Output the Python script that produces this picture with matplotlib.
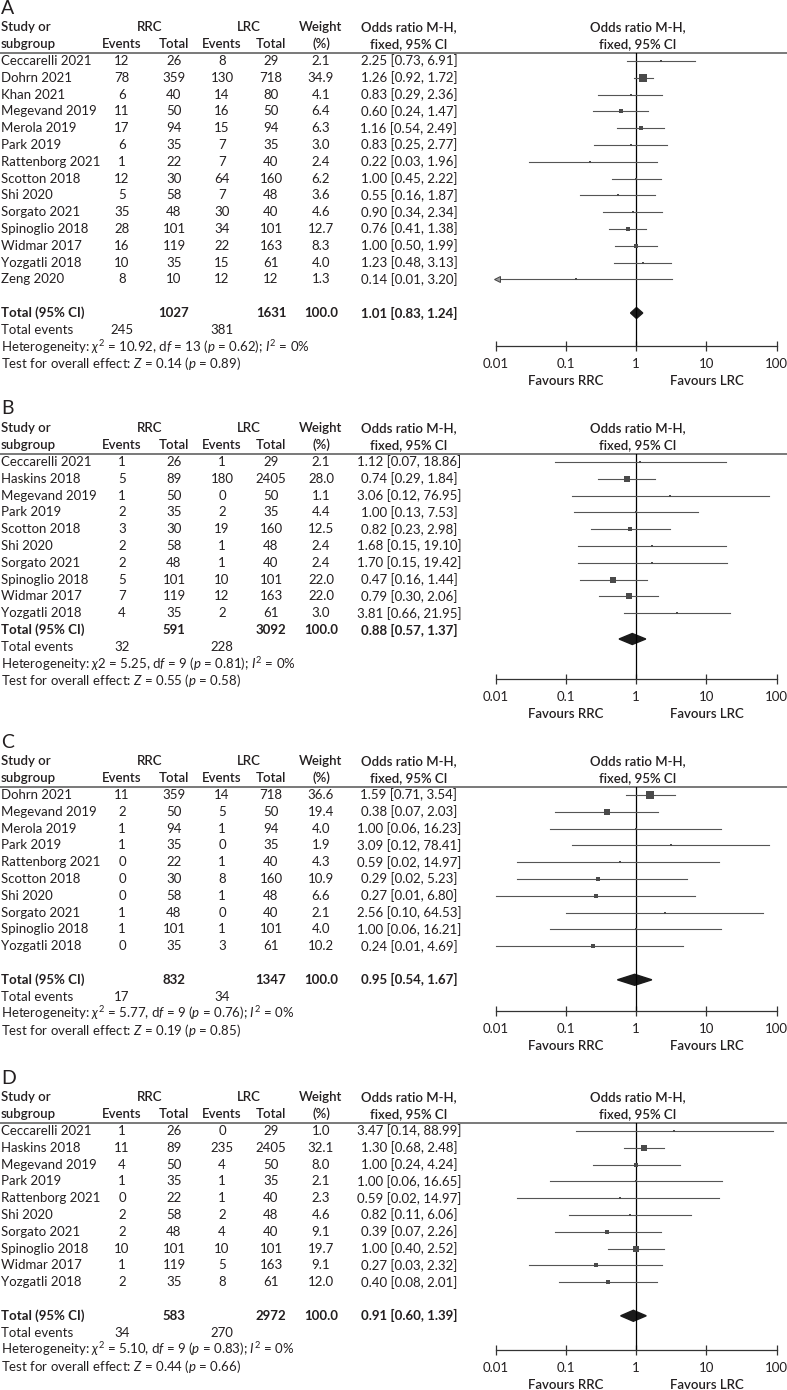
import numpy as np
import matplotlib.pyplot as plt
from matplotlib.patches import Polygon
from matplotlib.ticker import NullLocator

plt.rcParams['font.family'] = ['Lato', 'DejaVu Sans']
plt.rcParams['mathtext.fontset'] = 'custom'
plt.rcParams['mathtext.rm'] = 'Lato'
plt.rcParams['mathtext.it'] = 'Lato:italic'
plt.rcParams['mathtext.bf'] = 'Lato:bold'

# ---- panel A ----
a_study = ["Ceccarelli 2021", "Dohrn 2021", "Khan 2021", "Megevand 2019", "Merola 2019",
           "Park 2019", "Rattenborg 2021", "Scotton 2018", "Shi 2020", "Sorgato 2021",
           "Spinoglio 2018", "Widmar 2017", "Yozgatli 2018", "Zeng 2020"]
a_rrc_ev = [12, 78, 6, 11, 17, 6, 1, 12, 5, 35, 28, 16, 10, 8]
a_rrc_n = [26, 359, 40, 50, 94, 35, 22, 30, 58, 48, 101, 119, 35, 10]
a_lrc_ev = [8, 130, 14, 16, 15, 7, 7, 64, 7, 30, 34, 22, 15, 12]
a_lrc_n = [29, 718, 80, 50, 94, 35, 40, 160, 48, 40, 101, 163, 61, 12]
a_weight = [2.1, 34.9, 4.1, 6.4, 6.3, 3.0, 2.4, 6.2, 3.6, 4.6, 12.7, 8.3, 4.0, 1.3]
a_or = [2.25, 1.26, 0.83, 0.60, 1.16, 0.83, 0.22, 1.00, 0.55, 0.90, 0.76, 1.00, 1.23, 0.14]
a_lo = [0.73, 0.92, 0.29, 0.24, 0.54, 0.25, 0.03, 0.45, 0.16, 0.34, 0.41, 0.50, 0.48, 0.01]
a_hi = [6.91, 1.72, 2.36, 1.47, 2.49, 2.77, 1.96, 2.22, 1.87, 2.34, 1.38, 1.99, 3.13, 3.20]
a_offscale = ["Zeng 2020"]
a_tot_n = [1027, 1631]
a_tot_or = [1.01, 0.83, 1.24]
a_tot_ev = [245, 381]
a_het = [10.92, 13, 0.62, 0]
a_z = [0.14, 0.89]

# ---- panel B ----
b_study = ["Ceccarelli 2021", "Haskins 2018", "Megevand 2019", "Park 2019", "Scotton 2018",
           "Shi 2020", "Sorgato 2021", "Spinoglio 2018", "Widmar 2017", "Yozgatli 2018"]
b_rrc_ev = [1, 5, 1, 2, 3, 2, 2, 5, 7, 4]
b_rrc_n = [26, 89, 50, 35, 30, 58, 48, 101, 119, 35]
b_lrc_ev = [1, 180, 0, 2, 19, 1, 1, 10, 12, 2]
b_lrc_n = [29, 2405, 50, 35, 160, 48, 40, 101, 163, 61]
b_weight = [2.1, 28.0, 1.1, 4.4, 12.5, 2.4, 2.4, 22.0, 22.0, 3.0]
b_or = [1.12, 0.74, 3.06, 1.00, 0.82, 1.68, 1.70, 0.47, 0.79, 3.81]
b_lo = [0.07, 0.29, 0.12, 0.13, 0.23, 0.15, 0.15, 0.16, 0.30, 0.66]
b_hi = [18.86, 1.84, 76.95, 7.53, 2.98, 19.10, 19.42, 1.44, 2.06, 21.95]
b_offscale = []
b_tot_n = [591, 3092]
b_tot_or = [0.88, 0.57, 1.37]
b_tot_ev = [32, 228]
b_het = [5.25, 9, 0.81, 0]
b_z = [0.55, 0.58]

# ---- panel C ----
c_study = ["Dohrn 2021", "Megevand 2019", "Merola 2019", "Park 2019", "Rattenborg 2021",
           "Scotton 2018", "Shi 2020", "Sorgato 2021", "Spinoglio 2018", "Yozgatli 2018"]
c_rrc_ev = [11, 2, 1, 1, 0, 0, 0, 1, 1, 0]
c_rrc_n = [359, 50, 94, 35, 22, 30, 58, 48, 101, 35]
c_lrc_ev = [14, 5, 1, 0, 1, 8, 1, 0, 1, 3]
c_lrc_n = [718, 50, 94, 35, 40, 160, 48, 40, 101, 61]
c_weight = [36.6, 19.4, 4.0, 1.9, 4.3, 10.9, 6.6, 2.1, 4.0, 10.2]
c_or = [1.59, 0.38, 1.00, 3.09, 0.59, 0.29, 0.27, 2.56, 1.00, 0.24]
c_lo = [0.71, 0.07, 0.06, 0.12, 0.02, 0.02, 0.01, 0.10, 0.06, 0.01]
c_hi = [3.54, 2.03, 16.23, 78.41, 14.97, 5.23, 6.80, 64.53, 16.21, 4.69]
c_offscale = []
c_tot_n = [832, 1347]
c_tot_or = [0.95, 0.54, 1.67]
c_tot_ev = [17, 34]
c_het = [5.77, 9, 0.76, 0]
c_z = [0.19, 0.85]

# ---- panel D ----
d_study = ["Ceccarelli 2021", "Haskins 2018", "Megevand 2019", "Park 2019", "Rattenborg 2021",
           "Shi 2020", "Sorgato 2021", "Spinoglio 2018", "Widmar 2017", "Yozgatli 2018"]
d_rrc_ev = [1, 11, 4, 1, 0, 2, 2, 10, 1, 2]
d_rrc_n = [26, 89, 50, 35, 22, 58, 48, 101, 119, 35]
d_lrc_ev = [0, 235, 4, 1, 1, 2, 4, 10, 5, 8]
d_lrc_n = [29, 2405, 50, 35, 40, 48, 40, 101, 163, 61]
d_weight = [1.0, 32.1, 8.0, 2.1, 2.3, 4.6, 9.1, 19.7, 9.1, 12.0]
d_or = [3.47, 1.30, 1.00, 1.00, 0.59, 0.82, 0.39, 1.00, 0.27, 0.40]
d_lo = [0.14, 0.68, 0.24, 0.06, 0.02, 0.11, 0.07, 0.40, 0.03, 0.08]
d_hi = [88.99, 2.48, 4.24, 16.65, 14.97, 6.06, 2.26, 2.52, 2.32, 2.01]
d_offscale = []
d_tot_n = [583, 2972]
d_tot_or = [0.91, 0.60, 1.39]
d_tot_ev = [34, 270]
d_het = [5.10, 9, 0.83, 0]
d_z = [0.44, 0.66]

W, H = 787, 1390
fig = plt.figure(figsize=(W / 100, H / 100), dpi=100)
ax = fig.add_axes([0, 0, 1, 1])
ax.set_xlim(0, W)
ax.set_ylim(H, 0)
ax.axis('off')

TXT = '#231f20'
FS = 9.5
RS = 16.8                       # row step in pixels
col_x = [122, 174, 222, 271, 321]
or_x = 409
X_LO, X_HI = 495.7, 776.7       # pixel x of 0.01 and 100


def t(x, y, s, ha='center', **kw):
    kw.setdefault('fontsize', FS)
    kw.setdefault('color', TXT)
    ax.text(x, y, s, ha=ha, va='center', **kw)


def forest_axes(y_top, y_axis):
    fa = fig.add_axes([X_LO / W, 1 - y_axis / H, (X_HI - X_LO) / W, (y_axis - y_top) / H])
    fa.set_xscale('log')
    fa.set_xlim(0.01, 100)
    fa.set_ylim(y_axis, y_top)
    fa.patch.set_alpha(0)
    for s in ['top', 'left', 'right']:
        fa.spines[s].set_visible(False)
    fa.spines['bottom'].set_color('#333333')
    fa.spines['bottom'].set_linewidth(0.9)
    fa.set_yticks([])
    fa.set_xticks([0.01, 0.1, 1, 10, 100])
    fa.set_xticklabels(['0.01', '0.1', '1', '10', '100'])
    fa.xaxis.set_minor_locator(NullLocator())
    fa.tick_params(axis='x', direction='inout', length=7, width=0.9, color='#333333',
                   pad=5, labelsize=FS, labelcolor=TXT)
    fa.axvline(1, color='black', lw=0.9)
    return fa


def draw_panel(letter, top, study, rrc_ev, rrc_n, lrc_ev, lrc_n, weight, orv, lo, hi,
               offscale, tot_n, tot_or, tot_ev, het, zval, gap, axis_off, diam_off,
               chi_plain=False):
    t(1, top, letter, ha='left', fontsize=14)
    h1, h2, line = top + 19, top + 36, top + 45
    hw = 'semibold'
    t(1, h1, 'Study or', ha='left', weight=hw)
    t(1, h2, 'subgroup', ha='left', weight=hw)
    t((col_x[0] + col_x[1]) / 2 + 2, h1, 'RRC', weight=hw)
    t((col_x[2] + col_x[3]) / 2 + 2, h1, 'LRC', weight=hw)
    for x, s in zip(col_x[:4], ['Events', 'Total', 'Events', 'Total']):
        t(x, h2, s, weight=hw)
    t(col_x[4], h1, 'Weight', weight=hw)
    t(col_x[4], h2, '(%)', weight=hw)
    t(or_x, h1, 'Odds ratio M-H,', weight=hw)
    t(or_x, h2, 'fixed, 95% CI', weight=hw)
    t(638, h1, 'Odds ratio M-H,', weight=hw)
    t(638, h2, 'fixed, 95% CI', weight=hw)
    ax.plot([0, W], [line, line], color='#555555', lw=1.1)

    rows = [top + 53 + i * RS for i in range(len(study))]
    for i, y in enumerate(rows):
        t(1, y, study[i], ha='left')
        for x, v in zip(col_x[:4], [rrc_ev[i], rrc_n[i], lrc_ev[i], lrc_n[i]]):
            t(x, y, str(v))
        t(col_x[4], y, f'{weight[i]:.1f}')
        t(or_x, y, f'{orv[i]:.2f} [{lo[i]:.2f}, {hi[i]:.2f}]')

    y_tot = rows[-1] + RS * (2 if gap else 1)
    t(1, y_tot, 'Total (95% CI)', ha='left', weight='bold')
    t(col_x[1], y_tot, str(tot_n[0]), weight='bold')
    t(col_x[3], y_tot, str(tot_n[1]), weight='bold')
    t(col_x[4], y_tot, '100.0', weight='bold')
    t(or_x, y_tot, f'{tot_or[0]:.2f} [{tot_or[1]:.2f}, {tot_or[2]:.2f}]', weight='bold')
    t(1, y_tot + RS, 'Total events', ha='left')
    t(col_x[0], y_tot + RS, str(tot_ev[0]))
    t(col_x[2], y_tot + RS, str(tot_ev[1]))
    chi = r'$\chi$2' if chi_plain else r'$\chi^2$'
    t(1, y_tot + 2 * RS,
      rf'Heterogeneity: {chi} = {het[0]:.2f}, d$f$ = {het[1]} ($p$ = {het[2]:.2f}); $I^2$ = {het[3]}%',
      ha='left')
    t(1, y_tot + 3 * RS, rf'Test for overall effect: $Z$ = {zval[0]:.2f} ($p$ = {zval[1]:.2f})',
      ha='left')

    y_axis = y_tot + axis_off
    fa = forest_axes(line, y_axis)
    for i, y in enumerate(rows):
        if study[i] in offscale:
            fa.plot([0.01, hi[i]], [y, y], color='#555555', lw=0.8, clip_on=False)
            fa.plot(0.0105, y, marker='<', ms=5, mfc='#9a9a9a', mec='#444444', mew=0.7,
                    clip_on=False)
        else:
            fa.plot([lo[i], hi[i]], [y, y], color='#555555', lw=0.8, clip_on=False)
        side = max(2.6, 1.2 * np.sqrt(weight[i]))
        fa.plot(orv[i], y, marker='s', ms=side * 0.72, color='#4a4a4a', mew=0, clip_on=False)
    yd = y_tot + diam_off
    fa.add_patch(Polygon([(tot_or[1], yd), (tot_or[0], yd - 5.5), (tot_or[2], yd),
                          (tot_or[0], yd + 5.5)], closed=True, color='#1a1a1a', clip_on=False))
    fa.text(0.1, y_axis + 35, 'Favours RRC', ha='center', va='center', fontsize=FS,
            weight='semibold', color=TXT, clip_on=False)
    fa.text(10, y_axis + 35, 'Favours LRC', ha='center', va='center', fontsize=FS,
            weight='semibold', color=TXT, clip_on=False)


draw_panel('A', 8, a_study, a_rrc_ev, a_rrc_n, a_lrc_ev, a_lrc_n, a_weight, a_or, a_lo, a_hi,
           a_offscale, a_tot_n, a_tot_or, a_tot_ev, a_het, a_z, True, 33, 0)
draw_panel('B', 409, b_study, b_rrc_ev, b_rrc_n, b_lrc_ev, b_lrc_n, b_weight, b_or, b_lo, b_hi,
           b_offscale, b_tot_n, b_tot_or, b_tot_ev, b_het, b_z, False, 49, 9, chi_plain=True)
draw_panel('C', 742, c_study, c_rrc_ev, c_rrc_n, c_lrc_ev, c_lrc_n, c_weight, c_or, c_lo, c_hi,
           c_offscale, c_tot_n, c_tot_or, c_tot_ev, c_het, c_z, True, 31, 0)
draw_panel('D', 1078, d_study, d_rrc_ev, d_rrc_n, d_lrc_ev, d_lrc_n, d_weight, d_or, d_lo, d_hi,
           d_offscale, d_tot_n, d_tot_or, d_tot_ev, d_het, d_z, True, 34, 0)

fig.savefig('out.png', dpi=100)
